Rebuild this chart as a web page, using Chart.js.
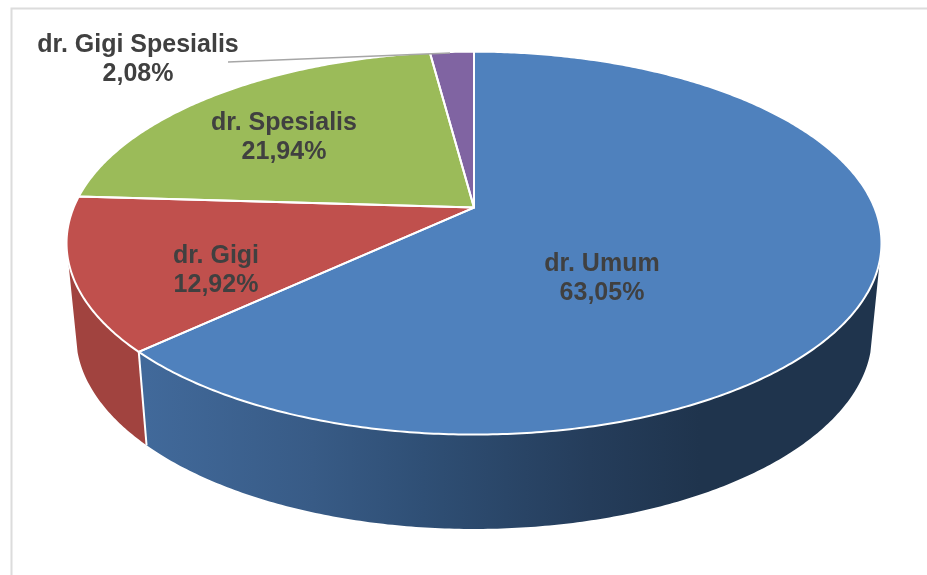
<!DOCTYPE html>
<html>
<head>
<meta charset="utf-8">
<style>html,body{margin:0;padding:0;background:#fff}#w{position:absolute;left:0;top:0;width:927px;height:575px}</style>
<script src="https://cdn.jsdelivr.net/npm/chart.js@4"></script>
</head>
<body>
<div id="w"><canvas id="c" width="927" height="575"></canvas></div>
<script>
const categories = ["dr. Umum", "dr. Gigi", "dr. Spesialis", "dr. Gigi Spesialis"];
const shares = [63.05, 12.92, 21.94, 2.08];
const faceColors = ["#4f81bd", "#c0504d", "#9bbb59", "#8064a2"];
const labelCenters = [[602, 279], [216, 271], [284, 138], [138, 60]];
const lineGap = 29;
const textColor = "#404040";
const labelFont = "bold 25px 'Liberation Sans', Arial, sans-serif";

// projective view of the flat disc: top face and bottom rim
const cx = 474, tilt = -0.1854;
const topView = { a: 146.4, b: 207.6, w: 400.4 };
const lowView = { a: 131.9, b: 299, w: 391.1 };
const silhouette = Math.asin(0.27);

function project(v, t) {
  const s = Math.sin(t), c = Math.cos(t), d = 1 + tilt * s;
  return [cx + v.w * c / d, (v.a * s + v.b) / d];
}
function trace(ctx, v, from, to, first) {
  const n = Math.max(2, Math.ceil(Math.abs(to - from) / 0.01));
  for (let i = 0; i <= n; i++) {
    const p = project(v, from + (to - from) * i / n);
    if (i === 0 && first) ctx.moveTo(p[0], p[1]); else ctx.lineTo(p[0], p[1]);
  }
}
const view3d = {
  id: "view3d",
  beforeDatasetsDraw(chart) {
    const ctx = chart.ctx;
    const arcs = chart.getDatasetMeta(0).data;
    ctx.save();
    ctx.fillStyle = "#fff";
    ctx.fillRect(0, 0, chart.width, chart.height);
    // panel border: left and top edges only reach the picture
    ctx.strokeStyle = "#dcdcdc";
    ctx.lineWidth = 2;
    ctx.beginPath();
    ctx.moveTo(11.5, 576); ctx.lineTo(11.5, 8.5); ctx.lineTo(928, 8.5);
    ctx.stroke();

    // side walls
    const blueSide = ctx.createLinearGradient(147, 0, 700, 0);
    blueSide.addColorStop(0, "#41699a");
    blueSide.addColorStop(0.3, "#385b86");
    blueSide.addColorStop(0.5, "#2f4f75");
    blueSide.addColorStop(0.8, "#253d5b");
    blueSide.addColorStop(1, "#1f344d");
    const sideFill = [blueSide, "#a1433f", "#7c9a45", "#66508a"];
    arcs.forEach((arc, i) => {
      const from = Math.max(arc.startAngle, silhouette);
      const to = Math.min(arc.endAngle, Math.PI - silhouette);
      if (to <= from) return;
      ctx.beginPath();
      trace(ctx, topView, from, to, true);
      trace(ctx, lowView, to, from, false);
      ctx.closePath();
      ctx.fillStyle = sideFill[i];
      ctx.fill();
    });
    // wall seams
    ctx.strokeStyle = "#fff";
    ctx.lineWidth = 2;
    arcs.forEach(arc => {
      const t = arc.startAngle;
      if (t > silhouette && t < Math.PI - silhouette) {
        const p = project(topView, t), q = project(lowView, t);
        ctx.beginPath(); ctx.moveTo(p[0], p[1]); ctx.lineTo(q[0], q[1]); ctx.stroke();
      }
    });

    // top faces
    const apex = [cx, topView.b];
    arcs.forEach((arc, i) => {
      ctx.beginPath();
      ctx.moveTo(apex[0], apex[1]);
      trace(ctx, topView, arc.startAngle, arc.endAngle, false);
      ctx.closePath();
      ctx.fillStyle = faceColors[i];
      ctx.fill();
    });
    ctx.lineJoin = "round";
    ctx.lineWidth = 2;
    ctx.strokeStyle = "#fff";
    arcs.forEach(arc => {
      ctx.beginPath();
      ctx.moveTo(apex[0], apex[1]);
      trace(ctx, topView, arc.startAngle, arc.endAngle, false);
      ctx.closePath();
      ctx.stroke();
    });

    // leader line
    ctx.strokeStyle = "#a6a6a6";
    ctx.lineWidth = 1.5;
    ctx.beginPath(); ctx.moveTo(228, 62); ctx.lineTo(450, 53); ctx.stroke();

    // labels
    ctx.fillStyle = textColor;
    ctx.font = labelFont;
    ctx.textAlign = "center";
    ctx.textBaseline = "middle";
    categories.forEach((name, i) => {
      const [x, y] = labelCenters[i];
      ctx.fillText(name, x, y - lineGap / 2);
      ctx.fillText(shares[i].toFixed(2).replace(".", ",") + "%", x, y + lineGap / 2);
    });
    ctx.restore();
    return false;
  }
};
new Chart(document.getElementById("c"), {
  type: "pie",
  data: { labels: categories, datasets: [{ data: shares, backgroundColor: faceColors, borderColor: "#fff" }] },
  options: {
    responsive: false,
    animation: false,
    rotation: 0,
    plugins: { legend: { display: false }, tooltip: { enabled: false } }
  },
  plugins: [view3d]
});
</script>
</body>
</html>
